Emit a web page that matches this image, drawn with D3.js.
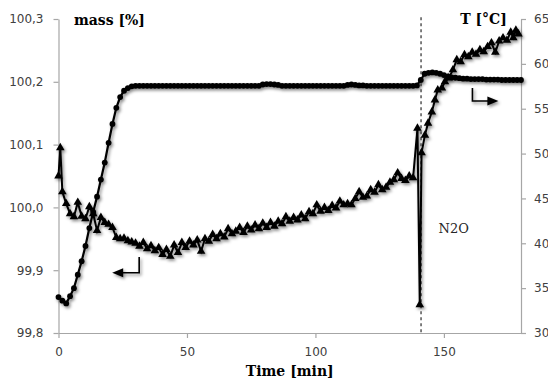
<!DOCTYPE html>
<html><head><meta charset="utf-8">
<script src="https://cdnjs.cloudflare.com/ajax/libs/d3/7.8.5/d3.min.js"></script>
<style>
html,body{margin:0;padding:0;background:#fff;}
svg{display:block;}
</style></head>
<body>
<div id="chart"></div>
<script>
// ---- data ----
const massTicks = [99.8, 99.9, 100.0, 100.1, 100.2, 100.3];
const tempTicks = [30, 35, 40, 45, 50, 55, 60, 65];
const timeTicks = [0, 50, 100, 150];

// mass [%] (triangles, left axis)
const massTime = [0,0.7,1.5,3,4.5,6,7.5,9,10.5,12,13.5,15,16.5,18,19.5,21,22.5,24,25.5,27,28.5,30,31.5,33,34.5,36,37.5,39,40.5,42,43.5,
 45,46.5,48,49.5,51,52.5,54,55.5,57,58.5,60,61.5,63,64.5,66,67.5,69,70.5,72,73.5,75,76.5,78,79.5,81,82.5,84,85.5,87,88.5,90,91.5,93,94.5,96,97.5,99,100.5,102,103.5,105,106.5,108,109.5,111,112.5,114,115.5,117,118.5,120,121.5,123,124.5,126,127.5,129,130.5,132,133.5,135,136.5,138,
 139.7,140.6,141.3,142.6,143.8,145.3,146.5,147.6,149.2,150.4,151.9,153.5,155,156.5,158,159.5,161,162.5,164,165.5,167,168.5,170,171.5,173,174.5,176,177,178,179];
const mass = [100.050,100.095,100.025,100.006,99.990,99.985,100.008,99.986,99.982,100.001,99.990,99.963,99.984,99.976,99.973,99.968,99.952,99.950,99.951,99.947,99.945,99.943,99.938,99.944,99.934,99.939,99.931,99.936,99.925,99.933,99.922,
 99.940,99.928,99.944,99.936,99.946,99.940,99.948,99.930,99.950,99.946,99.957,99.950,99.958,99.953,99.966,99.958,99.962,99.968,99.960,99.970,99.964,99.972,99.966,99.975,99.968,99.976,99.970,99.978,99.974,99.985,99.978,99.984,99.980,99.988,99.982,99.993,99.990,100.004,99.994,100.000,99.995,100.003,99.999,100.010,100.004,100.006,100.004,100.014,100.025,100.016,100.018,100.028,100.024,100.036,100.028,100.032,100.040,100.044,100.055,100.046,100.043,100.050,100.047,
 100.126,99.845,100.087,100.115,100.134,100.152,100.171,100.187,100.190,100.200,100.206,100.219,100.235,100.232,100.243,100.240,100.247,100.244,100.251,100.248,100.256,100.262,100.247,100.265,100.270,100.266,100.279,100.270,100.282,100.276];

// T [°C] (circles, right axis)
const tempTime = [0,1.5,3,4.5,6,7.5,9,10.5,12,13.5,15,16.5,18,19.5,21,22.5,24,25.5,27,28.5,
 30,31.5,33,34.5,36,37.5,39,40.5,42,43.5,45,46.5,48,49.5,51,52.5,54,55.5,57,58.5,60,61.5,63,64.5,66,67.5,69,70.5,72,73.5,75,76.5,78,
 79.5,81,82.5,84,85.5,
 87,88.5,90,91.5,93,94.5,96,97.5,99,100.5,102,103.5,105,106.5,108,109.5,111,
 112.5,114,115.5,117,118.5,
 120,121.5,123,124.5,126,127.5,129,130.5,132,133.5,135,136.5,138,
 139.5,141,142.5,144,145.5,147,148.5,150,151.5,153,154.5,156,
 157.5,159,160.5,162,163.5,165,166.5,168,169.5,171,172.5,174,175.5,177,178.5,180];
const temp = [34.0,33.6,33.3,34.1,35.0,36.5,38.0,39.7,41.7,43.5,45.2,47.1,49.0,51.2,53.3,55.1,56.3,57.0,57.3,57.5,
 57.55,57.55,57.55,57.55,57.55,57.55,57.55,57.55,57.55,57.55,57.55,57.55,57.55,57.55,57.55,57.55,57.55,57.55,57.55,57.55,57.55,57.55,57.55,57.55,57.55,57.55,57.55,57.55,57.55,57.55,57.55,57.55,57.55,
 57.7,57.75,57.75,57.7,57.65,
 57.55,57.55,57.55,57.55,57.55,57.55,57.55,57.55,57.55,57.55,57.55,57.55,57.55,57.55,57.55,57.55,57.55,
 57.65,57.7,57.65,57.6,57.6,
 57.55,57.55,57.55,57.55,57.55,57.55,57.55,57.55,57.55,57.55,57.55,57.55,57.55,
 57.6,58.2,58.9,59.0,59.05,59.0,58.9,58.75,58.6,58.5,58.45,58.4,
 58.35,58.35,58.3,58.3,58.3,58.3,58.25,58.25,58.25,58.25,58.2,58.2,58.2,58.2,58.2,58.2];

const eventTime = 141.1;
const eventLabel = "N2O";

// ---- chart ----
const W = 548, H = 380;
const svg = d3.select("#chart").append("svg").attr("width", W).attr("height", H);

const defs = svg.append("defs");
const f = defs.append("filter").attr("id","shadow").attr("x","-10%").attr("y","-10%").attr("width","130%").attr("height","130%");
f.append("feDropShadow").attr("dx",1.5).attr("dy",2).attr("stdDeviation",1.5)
 .attr("flood-color","#000").attr("flood-opacity",0.45);

const x = d3.scaleLinear().domain([0,180]).range([58.5,521]);
const yM = d3.scaleLinear().domain([99.8,100.3]).range([333,19]);
const yT = d3.scaleLinear().domain([30,65]).range([333,19]);

const axisColor = "#a6a6a6", labelColor = "#404040";
const fmt = d => d3.format(".1f")(d).replace(".", ",");

function styleAxis(g){
  g.selectAll(".domain").attr("stroke", axisColor).attr("stroke-width",1.2);
  g.selectAll(".tick line").attr("stroke", axisColor).attr("stroke-width",1.2);
  g.selectAll(".tick text").attr("fill", labelColor)
   .style("font-family","'DejaVu Sans', Verdana, sans-serif").style("font-size","12px");
}

svg.append("g").attr("transform",`translate(0,${yM(99.8)})`)
  .call(d3.axisBottom(x).tickValues(timeTicks).tickFormat(d3.format("d")).tickSize(5).tickSizeOuter(0).tickPadding(9))
  .call(styleAxis);
svg.append("g").attr("transform",`translate(${x(0)},0)`)
  .call(d3.axisLeft(yM).tickValues(massTicks).tickFormat(fmt).tickSize(5).tickSizeOuter(0).tickPadding(10))
  .call(styleAxis);
svg.append("g").attr("transform",`translate(${x(180)},0)`)
  .call(d3.axisRight(yT).tickValues(tempTicks).tickFormat(d3.format("d")).tickSize(5).tickSizeOuter(0).tickPadding(8))
  .call(styleAxis);

// event dashed line
svg.append("line")
  .attr("x1", x(eventTime)).attr("x2", x(eventTime))
  .attr("y1", yT(65.2)).attr("y2", yT(30))
  .attr("stroke","#555").attr("stroke-width",1.5).attr("stroke-dasharray","3,3");

// temperature series
const tempData = tempTime.map((t,i)=>[t,temp[i]]);
const gT = svg.append("g").attr("filter","url(#shadow)");
gT.append("path").datum(tempData)
  .attr("d", d3.line().x(d=>x(d[0])).y(d=>yT(d[1])))
  .attr("fill","none").attr("stroke","#000").attr("stroke-width",2.2);
gT.selectAll("circle").data(tempData).join("circle")
  .attr("cx", d=>x(d[0])).attr("cy", d=>yT(d[1])).attr("r",2.9).attr("fill","#000");

// mass series
const massData = massTime.map((t,i)=>[t,mass[i]]);
const gM = svg.append("g").attr("filter","url(#shadow)");
gM.append("path").datum(massData)
  .attr("d", d3.line().x(d=>x(d[0])).y(d=>yM(d[1])))
  .attr("fill","none").attr("stroke","#000").attr("stroke-width",2);
const tri = d3.symbol().type(d3.symbolTriangle).size(32);
gM.selectAll("path.m").data(massData).join("path").attr("class","m")
  .attr("transform", d=>`translate(${x(d[0])},${yM(d[1])})`)
  .attr("d", tri).attr("fill","#000");

// arrows
function arrow(points, tip, dir){
  const g = svg.append("g").attr("filter","url(#shadow)");
  g.append("path").attr("d", d3.line()(points)).attr("fill","none").attr("stroke","#000").attr("stroke-width",1.6);
  const [tx,ty] = tip;
  const L = 11, hw = 4.5;
  const pts = dir < 0 ? [[tx,ty],[tx+L,ty-hw],[tx+L,ty+hw]] : [[tx,ty],[tx-L,ty-hw],[tx-L,ty+hw]];
  g.append("path").attr("d", d3.line()(pts)+"Z").attr("fill","#000");
}
arrow([[x(31.4),yM(99.921)],[x(31.4),yM(99.896)],[x(24),yM(99.896)]], [x(20.9),yM(99.896)], -1);
arrow([[x(161.1),yT(57.3)],[x(161.1),yT(55.86)],[x(168),yT(55.86)]], [x(171.2),yT(55.86)], 1);

// texts
const serif = "'DejaVu Serif', 'Liberation Serif', serif";
svg.append("text").attr("x", x(6)).attr("y", 25).text("mass [%]")
  .style("font-family",serif).style("font-weight","bold").style("font-size","14px").attr("fill","#000");
svg.append("text").attr("x", x(174.5)).attr("y", 24).attr("text-anchor","end").text("T [°C]")
  .style("font-family",serif).style("font-weight","bold").style("font-size","14px").attr("fill","#000");
svg.append("text").attr("x", x(147.9)).attr("y", yT(41.15)).text(eventLabel)
  .style("font-family",serif).style("font-size","13px").attr("fill","#262626");
svg.append("text").attr("x", (x(0)+x(180))/2).attr("y", 376).attr("text-anchor","middle").text("Time [min]")
  .style("font-family",serif).style("font-weight","bold").style("font-size","14px").attr("fill","#000");
</script>
</body></html>
